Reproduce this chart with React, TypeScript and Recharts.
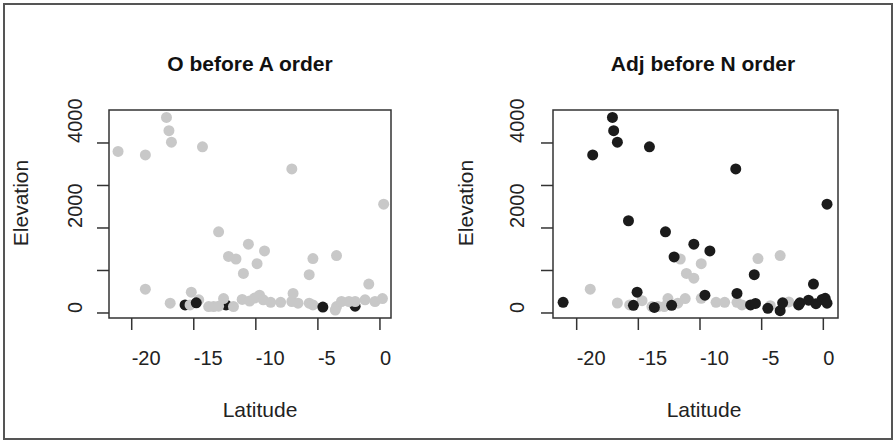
import { ScatterChart, Scatter, XAxis, YAxis, ReferenceArea } from 'recharts';

// шкалы
const latTicks = [-20, -15, -10, -5, 0];
const elevTicks = [0, 1000, 2000, 3000, 4000];
const elevLabelled = [0, 2000, 4000];

// O before A order: grey = other, black = O-A
const oaGrey = [
  [-21.1, 3800], [-18.9, 3720], [-18.9, 560], [-17.2, 4600], [-17.0, 4290], [-16.8, 4020],
  [-14.3, 3910], [-7.1, 3390], [0.3, 2560], [-13.0, 1910], [-10.6, 1620], [-9.3, 1460],
  [-12.2, 1330], [-11.6, 1270], [-9.9, 1160], [-11.0, 930], [-5.4, 1280], [-5.7, 900],
  [-3.5, 1350], [-0.9, 680], [-15.2, 490], [-7.0, 460],
  [-16.9, 230], [-15.3, 190], [-14.6, 310], [-13.8, 150], [-13.4, 150], [-13.0, 160],
  [-12.6, 340], [-11.8, 150], [-11.1, 320], [-10.5, 280], [-10.1, 350], [-9.7, 420],
  [-9.4, 310], [-8.8, 250], [-8.0, 250], [-7.1, 270], [-6.6, 230], [-5.7, 230], [-5.4, 190],
  [-3.5, 150], [-3.6, 70], [-3.1, 270], [-2.5, 270], [-2.0, 270], [-1.2, 310], [-0.4, 270],
  [0.2, 340],
];
const oaBlackUnder = [[-15.7, 190], [-12.4, 190], [-2.0, 160]];
const oaBlackOver = [[-14.8, 240], [-4.6, 140]];

// Adj before N order
const anGrey = [
  [-18.9, 560], [-16.7, 235], [-15.7, 190], [-14.7, 290], [-13.9, 150], [-13.4, 150],
  [-12.9, 150], [-12.6, 340], [-11.8, 230], [-11.2, 340], [-11.6, 1270], [-11.1, 930],
  [-10.5, 820], [-9.9, 1160], [-9.9, 345], [-8.7, 250], [-8.0, 250], [-7.0, 250],
  [-6.6, 190], [-5.3, 1280], [-3.5, 1350], [-4.3, 170], [-2.8, 260],
];
const anBlack = [
  [-21.1, 250], [-18.7, 3720], [-17.1, 4600], [-17.0, 4290], [-16.7, 4020], [-14.1, 3910],
  [-15.8, 2170], [-12.8, 1910], [-12.1, 1320], [-10.5, 1620], [-9.2, 1460], [-7.1, 3390],
  [0.3, 2560], [-5.6, 900], [-0.8, 680], [-15.1, 490], [-7.0, 460], [-9.6, 420],
  [-15.4, 180], [-13.7, 130], [-12.3, 180], [-5.9, 190], [-5.5, 225], [-4.5, 110],
  [-3.5, 55], [-3.3, 240], [-2.0, 190], [-1.9, 240], [-1.2, 300], [-0.6, 220],
  [-0.1, 320], [0.15, 345], [0.3, 230],
];

const GREY = '#c8c8c8';
const BLACK = '#1b1b1b';
const FONT = '"Liberation Sans", Arial, sans-serif';
const Y_DOMAIN = [-118, 4776];
const AXIS_H = 60;
const AXIS_W = 60;

const toPts = (arr: number[][]) => arr.map(([lat, elev]) => ({ lat, elev }));

const dot = (color: string) => (p: any) => <circle cx={p.cx} cy={p.cy} r={5.5} fill={color} />;

interface PanelProps {
  left: number;
  title: string;
  titleX: number;
  xDomain: number[];
  plotLeft: number;
  plotRight: number;
  yLabelX: number;
  yTickX: number;
  xLabelX: number;
  layers: { data: number[][]; color: string }[];
}

function Panel({ left, title, titleX, xDomain, plotLeft, plotRight, yLabelX, yTickX, xLabelX, layers }: PanelProps) {
  const W = 447;
  const H = 442;
  return (
    <div style={{ position: 'absolute', left, top: 0, width: W, height: H }}>
      <ScatterChart
        width={W}
        height={H}
        margin={{
          top: 110,
          left: plotLeft - left - AXIS_W,
          right: W - (plotRight - left),
          bottom: H - 318 - AXIS_H,
        }}
      >
        <XAxis
          type="number"
          dataKey="lat"
          domain={xDomain}
          allowDataOverflow
          ticks={latTicks}
          interval={0}
          height={AXIS_H}
          axisLine={false}
          tickSize={12}
          tickLine={{ stroke: '#333', strokeWidth: 1.5 }}
          tick={(p: any) => (
            <text x={p.x} y={365} textAnchor="start" fontSize={20} fill="#222" fontFamily={FONT}>
              {p.payload.value}
            </text>
          )}
        />
        <YAxis
          type="number"
          dataKey="elev"
          domain={Y_DOMAIN}
          allowDataOverflow
          ticks={elevTicks}
          interval={0}
          width={AXIS_W}
          axisLine={false}
          tickSize={12}
          tickLine={{ stroke: '#333', strokeWidth: 1.5 }}
          tick={(p: any) =>
            elevLabelled.includes(p.payload.value) ? (
              <text
                transform={`translate(${yTickX - left}, ${p.y}) rotate(-90)`}
                textAnchor="start"
                fontSize={20}
                fill="#222"
                fontFamily={FONT}
              >
                {p.payload.value}
              </text>
            ) : (
              <g />
            )
          }
        />
        <ReferenceArea
          x1={xDomain[0]}
          x2={xDomain[1]}
          y1={Y_DOMAIN[0]}
          y2={Y_DOMAIN[1]}
          fill="none"
          stroke="#333"
          strokeWidth={1.5}
        />
        {layers.map((l, i) => (
          <Scatter key={i} data={toPts(l.data)} shape={dot(l.color)} isAnimationActive={false} />
        ))}
      </ScatterChart>
      <svg
        width={W}
        height={H}
        style={{ position: 'absolute', left: 0, top: 0, pointerEvents: 'none' }}
        fontFamily={FONT}
      >
        <text x={titleX - left} y={71} textAnchor="middle" fontSize={21} fontWeight="bold" fill="#111">
          {title}
        </text>
        <text x={xLabelX - left} y={417} textAnchor="middle" fontSize={21} fill="#222">
          Latitude
        </text>
        <text
          transform={`translate(${yLabelX - left}, 203) rotate(-90)`}
          textAnchor="middle"
          fontSize={21}
          fill="#222"
        >
          Elevation
        </text>
      </svg>
    </div>
  );
}

export default function App() {
  return (
    <div style={{ position: 'absolute', left: 0, top: 0, width: 895, height: 442, background: '#fff' }}>
      <Panel
        left={0}
        title="O before A order"
        titleX={250}
        xDomain={[-21.83, 0.89]}
        plotLeft={109}
        plotRight={391}
        yLabelX={28}
        yTickX={82}
        xLabelX={260}
        layers={[
          { data: oaBlackUnder, color: BLACK },
          { data: oaGrey, color: GREY },
          { data: oaBlackOver, color: BLACK },
        ]}
      />
      <Panel
        left={447}
        title="Adj before N order"
        titleX={703}
        xDomain={[-21.92, 1.19]}
        plotLeft={553}
        plotRight={838}
        yLabelX={473}
        yTickX={524}
        xLabelX={704}
        layers={[
          { data: anGrey, color: GREY },
          { data: anBlack, color: BLACK },
        ]}
      />
      <div
        style={{
          position: 'absolute',
          left: 3,
          top: 3,
          width: 886,
          height: 433,
          border: '2px solid #555',
          pointerEvents: 'none',
        }}
      />
    </div>
  );
}
